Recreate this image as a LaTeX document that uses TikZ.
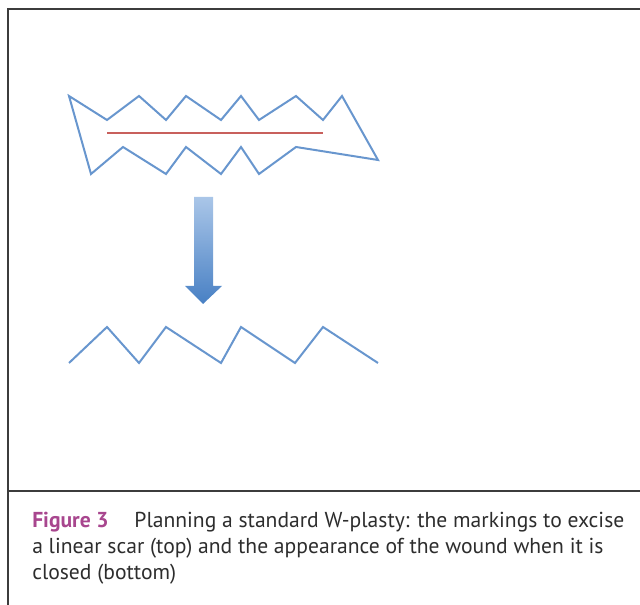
\documentclass[tikz,border=0pt]{standalone}
\usepackage{fontspec}
\setmainfont{PT Sans}
\usetikzlibrary{positioning}

\definecolor{lineblue}{RGB}{104,150,206}
\definecolor{scarred}{RGB}{200,96,92}
\definecolor{arrowtop}{RGB}{170,198,232}
\definecolor{arrowbot}{RGB}{72,128,196}
\definecolor{figmagenta}{RGB}{168,70,142}
\definecolor{framegray}{RGB}{60,60,60}
\definecolor{textgray}{RGB}{45,45,45}

\begin{document}
\begin{tikzpicture}[x=0.75pt, y=-0.75pt,
  incision/.style={draw=lineblue, line width=1.5pt, line join=miter},
  scar/.style={draw=scarred, line width=1.2pt},
  frameline/.style={draw=framegray, line width=1.4pt},
  caption/.style={font=\fontsize{16.2}{19.4}\selectfont, color=textgray,
    align=left, anchor=north west, inner sep=0pt}]
  \useasboundingbox (0,0) rectangle (640,605);
  % frame and caption rule
  \draw[frameline] (8,605) -- (8,9) -- (641,9);
  \draw[frameline] (8,491) -- (641,491);
  % excision outline round the scar
  \draw[incision] (69,96) -- (107,120) -- (139,96) -- (166,120) -- (186,96)
    -- (221,120) -- (241,96) -- (259,120) -- (296,96) -- (323,120)
    -- (342,96) -- (378,160) -- (296,147) -- (259,174) -- (241,147)
    -- (221,174) -- (186,147) -- (166,174) -- (123,147) -- (91,174) -- cycle;
  % linear scar
  \draw[scar] (107,133) -- (323,133);
  % arrow
  \shade[top color=arrowtop, bottom color=arrowbot]
    (194,197) -- (213,197) -- (213,286) -- (222,286) -- (203,304)
    -- (185,286) -- (194,286) -- cycle;
  % closed wound
  \draw[incision] (69,363) -- (107,327) -- (139,363) -- (166,327) -- (221,363)
    -- (241,327) -- (295,363) -- (323,327) -- (378,363);
  \node[caption] (cap) at (32,512)
    {\textcolor{figmagenta}{\bfseries Figure 3}\hspace{1.2em}Planning a standard W-plasty: the markings to excise\\
     a linear scar (top) and the appearance of the wound when it is\\
     closed (bottom)};
\end{tikzpicture}
\end{document}
